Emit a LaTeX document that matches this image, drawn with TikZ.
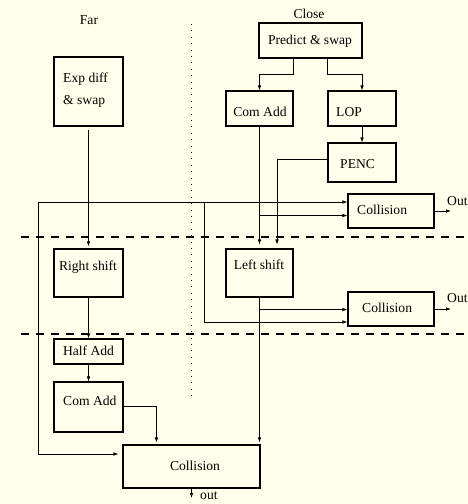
\documentclass[tikz,border=0pt]{standalone}
\usepackage{fontspec}
\setmainfont{Liberation Serif}
\usetikzlibrary{arrows.meta,calc}
\definecolor{bgc}{RGB}{255,255,236}
\begin{document}
\begin{tikzpicture}[x=1pt,y=-1pt,
  box/.style={draw, line width=1.1pt, inner sep=0pt},
  conn/.style={line width=0.7pt},
  arr/.style={conn, -{Latex[length=5pt,width=3.6pt]}},
  lbl/.style={inner sep=0pt, font=\fontsize{13.6}{16}\selectfont},
  sep/.style={line width=1.2pt, dash pattern=on 8pt off 7pt},
  region/.style={line width=1pt, dash pattern=on 0.8pt off 5.6pt},
]
\useasboundingbox[fill=bgc] (0,0) rectangle (468,504);

% region separators
\draw[region] (191,24) -- (191,398);
\draw[sep] (21,237) -- (468,237);
\draw[sep] (21,334) -- (468,334);

% boxes
\node[box, minimum width=69, minimum height=69] (exp) at (88.5,91.5) {};
\node[box, minimum width=103, minimum height=35] (predict) at (310.5,40.5) {};
\node[box, minimum width=67, minimum height=35] (comC) at (259.5,108.5) {};
\node[box, minimum width=68, minimum height=35] (lop) at (362,108.5) {};
\node[box, minimum width=68, minimum height=39] (penc) at (362,162.5) {};
\node[box, minimum width=86, minimum height=34] (col1) at (391,211) {};
\node[box, minimum width=69, minimum height=48] (rs) at (88.5,273) {};
\node[box, minimum width=67, minimum height=48] (ls) at (259.5,273) {};
\node[box, minimum width=86, minimum height=34] (col2) at (391,309) {};
\node[box, minimum width=69, minimum height=25] (half) at (88.5,351.5) {};
\node[box, minimum width=69, minimum height=50] (comF) at (88.5,407) {};
\node[box, minimum width=137, minimum height=43] (colF) at (191.5,466.5) {};

% texts
\node[lbl] (far) at (89,20) {Far};
\node[lbl] (close) at (309,14) {Close};
\node[lbl, anchor=mid west] (expt1) at (63,80) {Exp diff};
\node[lbl, anchor=mid west] (expt2) at (63,102) {\& swap};
\node[lbl, anchor=mid] (predt) at (310,42) {Predict \& swap};
\node[lbl, anchor=mid] (comCt) at (260,114) {Com Add};
\node[lbl, anchor=mid west] (lopt) at (336,114) {LOP};
\node[lbl, anchor=mid west] (penct) at (340,166) {PENC};
\node[lbl, anchor=mid west] (col1t) at (357,212) {Collision};
\node[lbl, anchor=mid] (rst) at (88,268) {Right shift};
\node[lbl, anchor=mid] (lst) at (259,267) {Left shift};
\node[lbl, anchor=mid west] (col2t) at (362,310) {Collision};
\node[lbl, anchor=mid] (halft) at (88.5,353) {Half Add};
\node[lbl, anchor=mid west] (comFt) at (63,403) {Com Add};
\node[lbl, anchor=mid] (colFt) at (195,468) {Collision};
\node[lbl, anchor=mid west] (out1) at (447,203) {Out};
\node[lbl, anchor=mid west] (out2) at (447,300) {Out};
\node[lbl, anchor=mid west] (outF) at (200,497.5) {out};

% junction coordinates
\coordinate (jA) at (38,202);
\coordinate (jB) at (204,202);
\coordinate (jC) at (204,322);
\coordinate (jD) at (38,454);
\coordinate (jE) at ($(comC.south)+(0,89)$);
\coordinate (jF) at ($(ls.south)+(0,12)$);
\coordinate (o1) at (451,211);
\coordinate (o2) at (451,309);
\coordinate (oF) at (191.5,498);

% connectors
\draw[arr, shorten <=3pt, shorten >=2pt] (exp.south) -- (rs.north);
\draw[arr] ($(predict.south west)+(35,0)$) -- ++(0,16) -| (comC.north);
\draw[arr] ($(predict.south west)+(69,0)$) -- ++(0,16) -| (lop.north);
\draw[arr] (lop.south) -- (penc.north);
\draw[arr, shorten >=4pt] ($(penc.north west)+(0,17)$) -| ($(ls.north)+(17.5,0)$);
\draw[arr, shorten >=4pt] (comC.south) -- (ls.north);
\draw[arr] (jE) -- (col1.west |- jE);
\draw[conn] (jA) -- (jD);
\draw[arr] (jA) -- (col1.west |- jA);
\draw[conn] (jB) -- (jC);
\draw[arr] (jC) -- (col2.west |- jC);
\draw[arr, shorten >=4pt] (jD) -- (colF.west |- jD);
\draw[arr, shorten >=2pt] (ls.south) -- (ls.south |- colF.north);
\draw[arr] (jF) -- (col2.west |- jF);
\draw[arr] (rs.south) -- (half.north);
\draw[arr] (half.south) -- (comF.north);
\draw[arr, shorten >=2pt] ($(comF.north east)+(0,25)$) -| ($(colF.north west)+(34,0)$);
\draw[arr] (col1.east) -- (o1);
\draw[arr] (col2.east) -- (o2);
\draw[arr] (colF.south) -- (oF);
\end{tikzpicture}
\end{document}
